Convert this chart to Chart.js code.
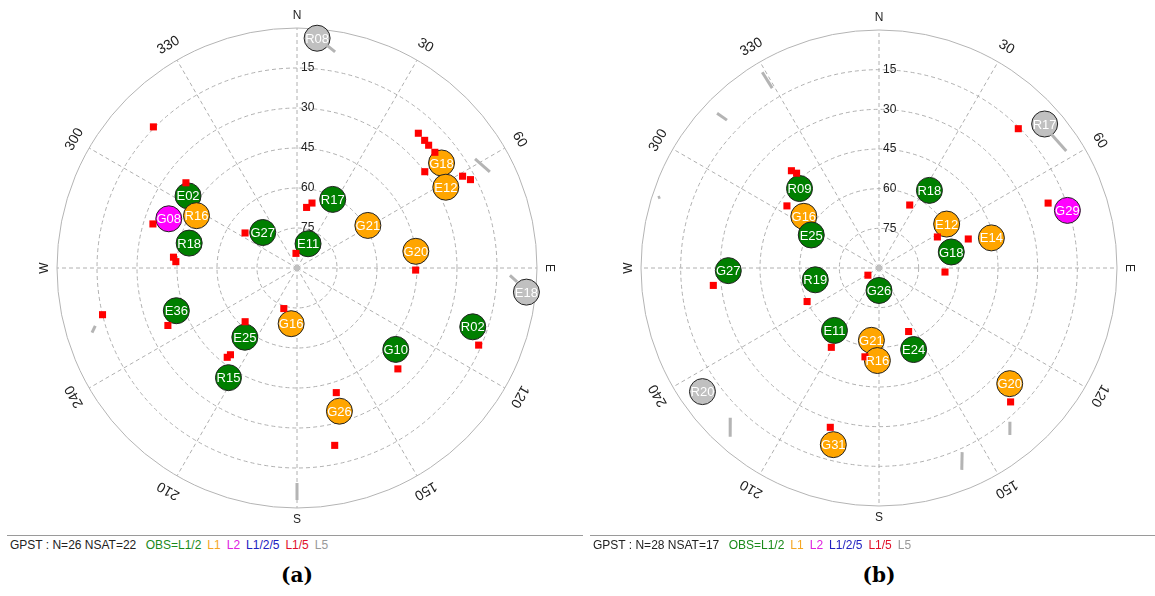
<!DOCTYPE html>
<html>
<head>
<meta charset="utf-8">
<script src="https://cdn.jsdelivr.net/npm/chart.js@4.4.1/dist/chart.umd.min.js"></script>
<style>
body{margin:0;background:#fff;width:1155px;height:596px;position:relative;overflow:hidden}
canvas{position:absolute;top:0}
.bar{position:absolute;top:535px;height:18px;border-top:1px solid #9a9a9a;font:12px "Liberation Sans",sans-serif;line-height:18px;white-space:nowrap;color:#222}
.bar span{margin-left:6px}
.cap{position:absolute;top:563px;width:100px;text-align:center;font:bold 20px "DejaVu Serif",serif;color:#000}
</style>
</head>
<body>
<canvas id="skyA" width="580" height="530" style="left:0"></canvas>
<canvas id="skyB" width="577" height="530" style="left:578px"></canvas>

<div class="bar" style="left:7px;width:573px;padding-left:3px">GPST : N=26 NSAT=22 <span style="color:#1a8a1a">OBS=L1/2</span><span style="color:#f5a623">L1</span><span style="color:#e020e0">L2</span><span style="color:#2020c0">L1/2/5</span><span style="color:#e0102a">L1/5</span><span style="color:#999">L5</span></div>
<div class="bar" style="left:590px;width:565px;padding-left:3px">GPST : N=28 NSAT=17 <span style="color:#1a8a1a">OBS=L1/2</span><span style="color:#f5a623">L1</span><span style="color:#e020e0">L2</span><span style="color:#2020c0">L1/2/5</span><span style="color:#e0102a">L1/5</span><span style="color:#999">L5</span></div>
<div class="cap" style="left:247px">(a)</div>
<div class="cap" style="left:829px">(b)</div>

<script>
// sky grid
const elevTicks=[15,30,45,60,75];
const azLabels=["N","30","60","E","120","150","S","210","240","W","300","330"];

// plot (a) satellites: azimuth, elevation (deg), observed signals
const satA=["R08","G18","E12","R17","G21","E11","G20","E02","G08","R16","R18","G27","E36","E25","R15","G16","E18","R02","G10","G26"];
const azA=[5,54,61.5,27.5,59,24.5,82,303.5,291,297.5,283,316,250.5,217,212,186,96,108.5,129.5,163.5];
const elA=[3.5,23,26.5,61,59,80,45,41,38.5,47.5,48.5,71.5,42,57.5,41.5,69,3.5,20.5,42,34];
const obsA=["L5","L1","L1","L1/2","L1","L1/2","L1","L1/2","L2","L1","L1/2","L1/2","L1/2","L1/2","L1/2","L1","L5","L1/2","L1/2","L1"];
// (a) track marks
const trailAzA=[13,9,42,45,47,50,53,61,63,356,91,307.5,287,275,273,304,246,224,217.5,218,198,113,135,162.5,168,314.5,256.5];
const trailElA=[65,67,22,22.3,22.5,22.5,30,19,17,84.5,45.5,37.5,33.5,43.5,44.5,66.5,37,62,49,47.5,74,16,36.5,41,22,14.5,15];
const grayFromAzA=[7.5,58.5,92,180,254];
const grayFromElA=[5.6,11.7,10.1,9.4,11.3];
const grayToAzA=[10,63.5,93.6,180,252.5];
const grayToElA=[7.7,9.2,7.3,3,9.4];

// plot (b)
const satB=["R17","G29","R18","E12","E14","G18","G26","E24","G21","R16","G20","R09","G16","E25","G27","R19","E11","R20","G31"];
const azB=[49,73,33,57,75,77.5,180,157,186,181,131.5,315,304.5,296,269,259.5,215.5,235,194.5];
const elB=[7,15.5,55,59.5,46,62,81.5,56.5,62.5,55,24,47.5,55.5,61.5,33,65.5,61,8.5,21];
const obsB=["L5","L2","L1/2","L1","L1","L1/2","L1/2","L1/2","L1","L1","L1","L1/2","L1","L1/2","L1/2","L1/2","L1/2","L5","L1"];
const trailAzB=[45,69,26,62,72,93.5,237,155,189,135.5,318,319,304,264,245,211,197];
const trailElB=[15.5,21.5,63.5,65,54.5,65,85,63.5,56,19,40.5,42.5,48,27,60,55,27];
const grayFromAzB=[52,329.2,313.7,287.6,224.8,139.6,155.7];
const grayFromElB=[7.5,3.8,5.3,2.3,10.2,13.6,13.6];
const grayToAzB=[58,329.3,314.2,288,221.4,141.9,157.7];
const grayToElB=[6.5,10.9,9.8,3,4.9,9.8,7.5];

const obsColor={"L1/2":"#007f00","L1":"#ffa500","L2":"#ff00ff","L5":"#c0c0c0"};

function pt(az,el){
  const r=90-el, a=az*Math.PI/180;
  return {x:r*Math.sin(a),y:r*Math.cos(a)};
}

const skyGrid={
  id:"skyGrid",
  beforeDatasetsDraw(chart){
    const ctx=chart.ctx, x=chart.scales.x, y=chart.scales.y;
    const cx=x.getPixelForValue(0), cy=y.getPixelForValue(0);
    const rp=v=>x.getPixelForValue(v)-cx;
    const R=rp(90);
    ctx.save();
    ctx.strokeStyle="#b0b0b0";ctx.lineWidth=1;
    ctx.setLineDash([4,3]);
    elevTicks.forEach(e=>{ctx.beginPath();ctx.arc(cx,cy,rp(90-e),0,2*Math.PI);ctx.stroke();});
    for(let i=0;i<12;i++){
      const a=i*30*Math.PI/180;
      ctx.beginPath();ctx.moveTo(cx,cy);ctx.lineTo(cx+R*Math.sin(a),cy-R*Math.cos(a));ctx.stroke();
    }
    ctx.setLineDash([]);
    ctx.strokeStyle="#b4b4b4";
    ctx.beginPath();ctx.arc(cx,cy,R,0,2*Math.PI);ctx.stroke();
    ctx.fillStyle="#c0c0c0";
    ctx.beginPath();ctx.arc(cx,cy,3,0,2*Math.PI);ctx.fill();
    // azimuth labels
    ctx.fillStyle="#222";ctx.textAlign="center";ctx.textBaseline="middle";
    azLabels.forEach((t,i)=>{
      const a=i*30*Math.PI/180, isDir=(i%3===0);
      const rr=R+(isDir?12:17);
      ctx.save();
      ctx.translate(cx+rr*Math.sin(a),cy-rr*Math.cos(a));
      let rot=a;
      if(t==="N"||t==="S")rot=0;
      ctx.rotate(rot);
      ctx.font=(isDir?"12px":"14px")+" 'Liberation Sans', sans-serif";
      ctx.fillText(t,0,0);
      ctx.restore();
    });
    // elevation labels
    ctx.font="12px 'Liberation Sans', sans-serif";ctx.textAlign="left";
    elevTicks.forEach(e=>{ctx.fillText(String(e),cx+4,cy-rp(90-e));});
    ctx.restore();
  },
  afterDatasetsDraw(chart){
    const ctx=chart.ctx;
    const idx=chart.data.datasets.findIndex(d=>d.sats);
    const ds=chart.data.datasets[idx], meta=chart.getDatasetMeta(idx);
    ctx.save();
    ctx.font="13px 'Liberation Sans', sans-serif";ctx.fillStyle="#fff";
    ctx.textAlign="center";ctx.textBaseline="middle";
    meta.data.forEach((p,i)=>ctx.fillText(ds.sats[i],p.x,p.y+1));
    ctx.restore();
  }
};

function makeSky(id,pad,sats,az,el,obs,tAz,tEl,gAz1,gEl1,gAz2,gEl2){
  const datasets=[];
  gAz1.forEach((a,i)=>{
    datasets.push({data:[pt(a,gEl1[i]),pt(gAz2[i],gEl2[i])],showLine:true,borderColor:"#b4b4b4",borderWidth:3,pointRadius:0});
  });
  datasets.push({data:tAz.map((a,i)=>pt(a,tEl[i])),pointStyle:"rect",pointRadius:5,backgroundColor:"#ff0000",borderWidth:0});
  datasets.push({sats:sats,data:az.map((a,i)=>pt(a,el[i])),pointRadius:13,pointHoverRadius:13,
    backgroundColor:obs.map(o=>obsColor[o]),borderColor:"#222",borderWidth:1});
  return new Chart(document.getElementById(id),{
    type:"scatter",
    data:{datasets:datasets},
    options:{
      responsive:false,animation:false,clip:false,
      layout:{padding:pad},
      plugins:{legend:{display:false},tooltip:{enabled:false}},
      scales:{
        x:{type:"linear",min:-90,max:90,display:false},
        y:{type:"linear",min:-90,max:90,display:false}
      }
    },
    plugins:[skyGrid]
  });
}

makeSky("skyA",{left:57,right:43,top:28,bottom:22},satA,azA,elA,obsA,trailAzA,trailElA,grayFromAzA,grayFromElA,grayToAzA,grayToElA);
makeSky("skyB",{left:63,right:38,top:30,bottom:24},satB,azB,elB,obsB,trailAzB,trailElB,grayFromAzB,grayFromElB,grayToAzB,grayToElB);
</script>
</body>
</html>
